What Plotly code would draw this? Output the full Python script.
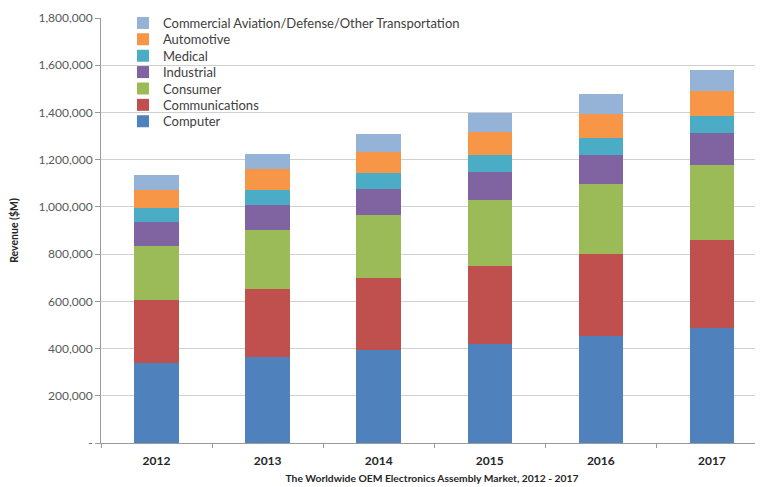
import plotly.graph_objects as go

years = ["2012", "2013", "2014", "2015", "2016", "2017"]
computer = [339000, 362700, 393800, 419000, 453900, 488800]
communications = [264800, 287500, 305200, 329100, 345900, 371600]
consumer = [232400, 252200, 266400, 280400, 295900, 317700]
industrial = [100900, 107600, 111800, 118900, 124400, 133200]
medical = [58800, 63000, 67300, 72700, 73200, 74400]
automotive = [77000, 85800, 87000, 98400, 99200, 105100]
commercial = [63000, 65500, 77000, 78100, 87000, 90800]

series = [
    ("Computer", computer, "#4F81BD"),
    ("Communications", communications, "#C0504D"),
    ("Consumer", consumer, "#9BBB59"),
    ("Industrial", industrial, "#8064A2"),
    ("Medical", medical, "#4BACC6"),
    ("Automotive", automotive, "#F79646"),
    ("Commercial Aviation/Defense/Other Transportation", commercial, "#95B3D7"),
]

y_tickvals = [0, 200000, 400000, 600000, 800000, 1000000, 1200000, 1400000, 1600000, 1800000]
y_ticktext = ["-", "200,000", "400,000", "600,000", "800,000", "1,000,000",
              "1,200,000", "1,400,000", "1,600,000", "1,800,000"]

FONT = "Lato"
# the page body has an 8px default margin, so the figure is 8px smaller
W, H = 755, 479
M_L, M_T, M_B = 93, 7, 44
PLOT_H = H - M_T - M_B

fig = go.Figure()
legend_layouts = {}
for i, (name, vals, color) in enumerate(series):
    key = "legend" if i == 0 else f"legend{i + 1}"
    fig.add_trace(go.Bar(x=years, y=vals, name=name, marker_color=color,
                         marker_line_width=0, width=0.4, legend=key,
                         showlegend=True))
    # one entry per legend box, rows 16.5 px apart (Computer at bottom)
    row_px = 111 - 16.5 * i
    legend_layouts[key] = dict(
        x=0.0332, xanchor="left",
        y=(H - M_B - row_px) / PLOT_H, yanchor="middle",
        bgcolor="rgba(0,0,0,0)",
        font=dict(family=FONT, size=13, color="#404040"),
        itemwidth=30,
    )

fig.update_layout(
    width=W, height=H,
    barmode="stack",
    showlegend=True,
    paper_bgcolor="white", plot_bgcolor="white",
    margin=dict(l=M_L, r=0, t=M_T, b=M_B),
    font=dict(family=FONT, color="#404040"),
    xaxis=dict(
        range=[-0.5, 5.46],
        showline=True, linecolor="#9a9a9a", linewidth=1,
        ticks="outside", tickson="boundaries", ticklen=4, tickcolor="#9a9a9a",
        ticklabelstandoff=7,
        tickfont=dict(family=FONT, size=12, color="#262626", weight="bold"),
        title=dict(text="The Worldwide OEM Electronics Assembly Market, 2012 - 2017",
                   font=dict(family=FONT, size=10.3, color="#262626", weight="bold"),
                   standoff=7),
        showgrid=False,
    ),
    yaxis=dict(
        range=[0, 1800000],
        tickvals=y_tickvals, ticktext=y_ticktext,
        showline=True, linecolor="#9a9a9a", linewidth=1,
        ticks="outside", ticklen=5, tickcolor="#9a9a9a",
        showgrid=True, gridcolor="#d0d0d0", gridwidth=1,
        tickfont=dict(family=FONT, size=12, color="#595959"),
        title=dict(text="Revenue ($M)",
                   font=dict(family=FONT, size=10.5, color="#262626", weight="bold"),
                   standoff=18),
        zeroline=False,
    ),
    **legend_layouts,
)

fig.write_html("out.html")
